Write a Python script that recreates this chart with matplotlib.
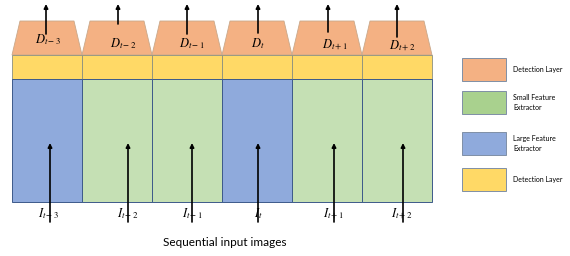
import matplotlib.pyplot as plt
from matplotlib.patches import Rectangle, Polygon

plt.rcParams['mathtext.fontset'] = 'stix'

offsets = ['t-3', 't-2', 't-1', 't', 't+1', 't+2']
extractor = ['large', 'small', 'small', 'large', 'small', 'small']

legend_names = ['Detection Layer', 'Small Feature\nExtractor', 'Large Feature\nExtractor', 'Detection Layer']
legend_keys = ['head', 'small', 'large', 'neck']

colors = {'head': '#F4B183', 'neck': '#FFD966', 'small': '#C5E0B4', 'large': '#8FAADC'}
legend_colors = {'head': '#F4B183', 'neck': '#FFD966', 'small': '#A9D18E', 'large': '#8FAADC'}

# hand-drawn nudges of arrows / labels inside each column (pixels from column centre)
top_shift = [-1, 1, 0, 1, 1, 0]
top_label_shift = [1, 6, 5, 1, 8, 5]
top_label_y = [40, 44, 44, 44, 45, 46]
top_arrow_end = [34, 24, 34, 33, 32, 37]
bot_shift = [3, 11, 5, 1, 7, 6]
bot_label_shift = [1, 11, 5, 1, 6, 5]

fig = plt.figure(figsize=(5.7, 2.56), dpi=100)
ax = fig.add_axes([0, 0, 1, 1])
ax.set_xlim(0, 570)
ax.set_ylim(256, 0)
ax.axis('off')

arrow = dict(arrowstyle='-|>', color='black', lw=1.2, mutation_scale=6, shrinkA=0, shrinkB=0)

x0, w = 12, 70
for i, (off, kind) in enumerate(zip(offsets, extractor)):
    x = x0 + i * w
    cx = x + w / 2
    ax.add_patch(Polygon([(x, 55), (x + 8, 21), (x + w - 8, 21), (x + w, 55)],
                         closed=True, fc=colors['head'], ec='#C9A88A', lw=0.6))
    ax.add_patch(Rectangle((x, 55), w, 24, fc=colors['neck'], ec='#8A8F80', lw=0.6))
    ax.add_patch(Rectangle((x, 79), w, 123, fc=colors[kind], ec='#3D5A8A', lw=0.7))
    ax.text(cx + top_label_shift[i], top_label_y[i], '$D_{%s}$' % off, fontsize=9,
            ha='center', va='center')
    ax.annotate('', xy=(cx + top_shift[i], 4), xytext=(cx + top_shift[i], top_arrow_end[i]),
                arrowprops=arrow)
    ax.text(cx + bot_label_shift[i], 214, '$I_{%s}$' % off, fontsize=9, ha='center', va='center')
    ax.annotate('', xy=(cx + bot_shift[i], 143), xytext=(cx + bot_shift[i], 222),
                arrowprops=arrow)

ax.text(225, 243, 'Sequential input images', fontsize=8.5, family='Lato',
        ha='center', va='center')

ly = [58, 91, 132, 168]
for y, name, key in zip(ly, legend_names, legend_keys):
    ax.add_patch(Rectangle((462, y), 44, 23, fc=legend_colors[key], ec='#7F8FA6', lw=0.7))
    ax.text(513, y + 11.5, name, fontsize=5, family='Lato', ha='left', va='center',
            linespacing=1.4)

fig.savefig('out.png', dpi=100)
